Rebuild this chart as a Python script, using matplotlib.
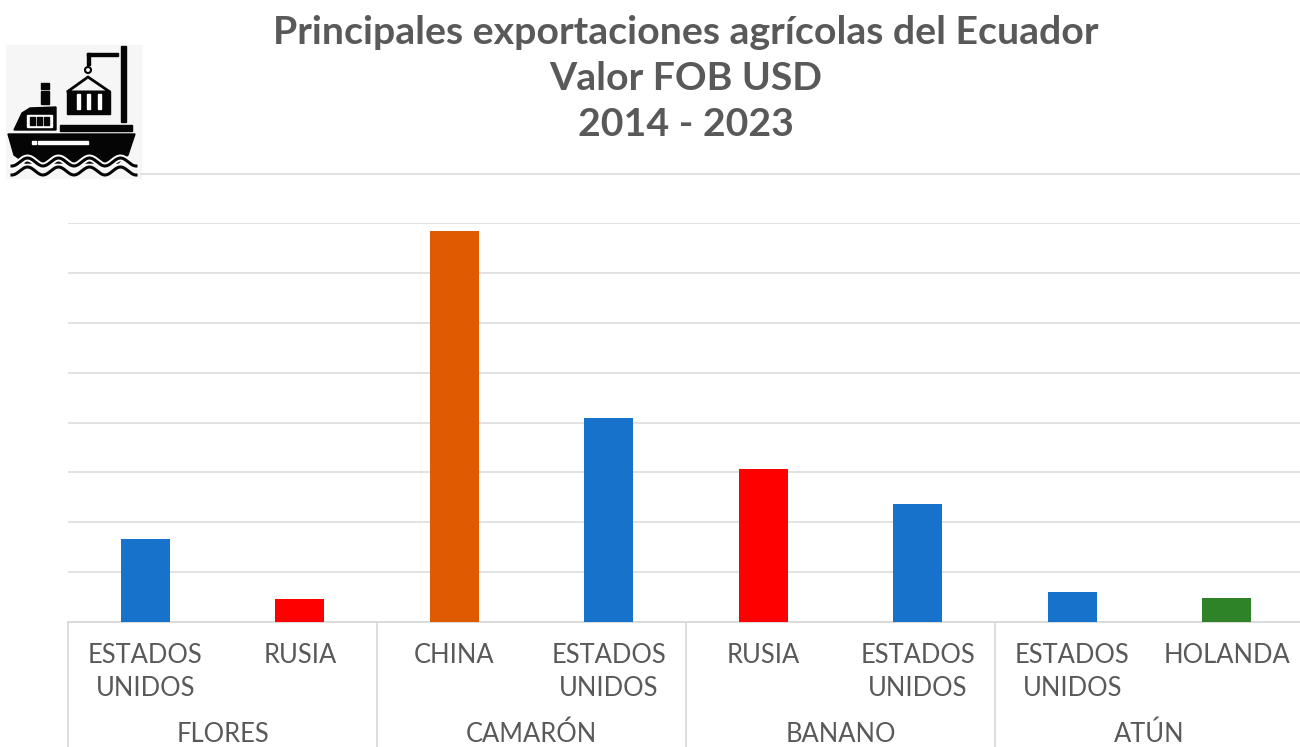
import numpy as np
import matplotlib
matplotlib.use("Agg")
import matplotlib.pyplot as plt
from matplotlib.patches import Polygon, Rectangle, Circle

# datos
paises = ["ESTADOS\nUNIDOS", "RUSIA", "CHINA", "ESTADOS\nUNIDOS", "RUSIA", "ESTADOS\nUNIDOS", "ESTADOS\nUNIDOS", "HOLANDA"]
productos = ["FLORES", "CAMARÓN", "BANANO", "ATÚN"]
valores = [1.67, 0.47, 7.83, 4.09, 3.07, 2.37, 0.60, 0.48]
colores = ["#1772CC", "#FF0000", "#E05A00", "#1772CC", "#FF0000", "#1772CC", "#1772CC", "#2E8328"]

W, H = 1300, 747
gris = "#595959"
linea = "#DADADA"
plt.rcParams["font.family"] = ["Lato", "DejaVu Sans"]

fig = plt.figure(figsize=(13, 7.47), dpi=100)

# area del grafico: x 68-1304, y 622-223 (8 divisiones de 50 px)
ax = fig.add_axes([68 / W, 1 - 622 / H, 1236 / W, 399 / H])
ax.set_xlim(0, 8)
ax.set_ylim(0, 8)
x = np.arange(8) + 0.5
ax.bar(x, valores, width=0.32, color=colores, zorder=3)
for s in ax.spines.values():
    s.set_visible(False)
ax.set_xticks([])
ax.set_yticks(range(1, 9))
ax.tick_params(axis="y", length=0, labelleft=False)
ax.grid(axis="y", color=linea, lw=1.1, zorder=0)
ax.set_axisbelow(True)

# etiquetas de dos niveles
for i in range(8):
    ax.text(x[i], -0.43, paises[i], ha="center", va="top", fontsize=18.4, color=gris, linespacing=1.36)
for i in range(4):
    ax.text(2 * i + 1, -2.0, productos[i], ha="center", va="top", fontsize=18.4, color=gris, clip_on=False)
ax.plot([0, 8], [0, 0], color=linea, lw=1.4, clip_on=False, zorder=2)
for i in range(4):
    ax.plot([2 * i, 2 * i], [0, -2.52], color=linea, lw=1.3, clip_on=False)

# linea superior de la rejilla
fig.add_artist(plt.Line2D([141 / W, 1], [1 - 173.5 / H, 1 - 173.5 / H], color=linea, lw=1.1))

fig.text(686 / W, 1 - 32 / H, "Principales exportaciones agrícolas del Ecuador", ha="center", va="center", fontsize=28.3, fontweight="bold", color=gris)
fig.text(686 / W, 1 - 78 / H, "Valor FOB USD", ha="center", va="center", fontsize=28.3, fontweight="bold", color=gris)
fig.text(686 / W, 1 - 124 / H, "2014 - 2023", ha="center", va="center", fontsize=28.3, fontweight="bold", color=gris)

# icono del barco, en coordenadas de pixel
ic = fig.add_axes([0, 0, 1, 1], facecolor="none")
ic.set_xlim(0, W)
ic.set_ylim(H, 0)
ic.axis("off")
ic.add_patch(Rectangle((6, 45), 135, 133, color="#F6F6F6", zorder=0))
negro = "#050505"
# grua
ic.add_patch(Rectangle((121, 46), 5, 76, color=negro))
ic.add_patch(Rectangle((87, 53), 31, 2.5, color=negro))
ic.add_patch(Rectangle((87, 53), 2.5, 12, color=negro))
ic.add_patch(Circle((88, 70), 3, fill=False, ec=negro, lw=1.5))
# contenedor
ic.add_patch(Polygon([[67, 92], [88, 77], [110, 92]], fill=False, ec=negro, lw=2))
ic.add_patch(Rectangle((67, 91), 43, 23, color=negro))
for xb in [76.5, 87, 97.5]:
    ic.add_patch(Rectangle((xb, 94), 3, 15, color="white"))
# chimenea y cabina
ic.add_patch(Rectangle((41, 83), 8, 6, color=negro))
ic.add_patch(Rectangle((41, 91), 8, 13, color=negro))
ic.add_patch(Polygon([[14, 130], [22, 113], [30, 108], [56, 107], [56, 130]], color=negro))
ic.add_patch(Rectangle((27, 115), 25, 12, color="white"))
for xb in [30, 37, 44]:
    ic.add_patch(Rectangle((xb, 117), 5, 8, color=negro))
ic.add_patch(Rectangle((60, 125), 72, 6, color=negro))
# casco
ic.add_patch(Polygon([[8, 134], [135, 134], [128, 155], [118, 163], [25, 163], [14, 155]], color=negro))
ic.add_patch(Rectangle((38, 141), 50, 2.5, color="white"))
ic.add_patch(Rectangle((32, 141), 4, 2.5, color="white"))
# olas
xo = np.linspace(12, 136, 150)
ic.plot(xo, 162 + 4 * np.cos((xo - 12) * 2 * np.pi / 31), color="white", lw=5)
ic.plot(xo, 162 + 4 * np.cos((xo - 12) * 2 * np.pi / 31), color=negro, lw=2.2)
ic.plot(xo, 171 + 4 * np.cos((xo - 12) * 2 * np.pi / 31), color=negro, lw=2.2)

fig.savefig("out.png", dpi=100)
